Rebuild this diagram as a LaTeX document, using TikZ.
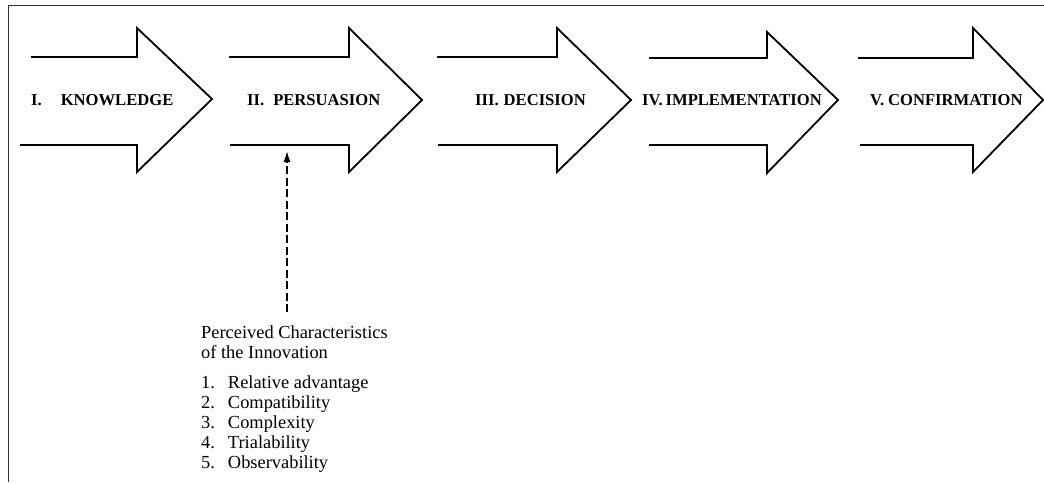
\documentclass[tikz,border=0pt]{standalone}
\usepackage{fontspec}
\setmainfont{Liberation Serif}
\usetikzlibrary{arrows.meta}
\tikzset{
  bigarrow/.style={draw=black, line width=1.8pt, line join=miter},
  stage/.style={anchor=west, inner sep=0pt, font=\fontsize{16.6}{18}\selectfont\bfseries},
  frameline/.style={draw=black!80, line width=1.2pt},
  dasharrow/.style={draw=black, line width=1.4pt, dash pattern=on 8pt off 3.5pt,
    -{Latex[length=11pt,width=7pt]}},
}
\begin{document}
\begin{tikzpicture}[x=1pt,y=-1pt]
\useasboundingbox (0,0) rectangle (1044,482);
% frame
\draw[frameline] (8.5,482) -- (8.5,5.5) -- (1044,5.5);
% arrows
\draw[bigarrow] (31,57) -- (137,57) -- (137,28) -- (212,99) -- (137,172) -- (137,145) -- (20,145);
\draw[bigarrow] (229,57) -- (349,57) -- (349,28) -- (422,100) -- (349,172) -- (349,145) -- (230,145);
\draw[bigarrow] (437,57) -- (557,57) -- (557,28) -- (631,100) -- (557,172) -- (557,145) -- (438,145);
\draw[bigarrow] (649,58) -- (767,58) -- (767,32) -- (838,100) -- (767,173) -- (767,145) -- (649,145);
\draw[bigarrow] (858,58) -- (973,58) -- (973,28) -- (1043,100) -- (973,172) -- (973,145) -- (860,145);
% labels
\node[stage] (s1) at (31,100) {I.\hspace{19pt}KNOWLEDGE};
\node[stage] (s2) at (247,100) {II.\hspace{9pt}PERSUASION};
\node[stage] (s3) at (475,100) {III.\hspace{5pt}DECISION};
\node[stage] (s4) at (642,100) {IV.\hspace{3pt}IMPLEMENTATION};
\node[stage] (s5) at (870,100) {V.\hspace{4pt}CONFIRMATION};
% characteristics
\coordinate (p2b) at (287,151);
\node[anchor=north west, inner sep=0pt, font=\fontsize{18.4}{20}\selectfont] (chars) at (201,324)
{\begin{tabular}{@{}l@{\hspace{13pt}}l@{}}
\multicolumn{2}{@{}l@{}}{Perceived Characteristics}\\
\multicolumn{2}{@{}l@{}}{of the Innovation}\\[10pt]
1.&Relative advantage\\
2.&Compatibility\\
3.&Complexity\\
4.&Trialability\\
5.&Observability
\end{tabular}};
\draw[dasharrow, shorten <=12pt] (chars.north -| p2b) -- (p2b);
\end{tikzpicture}
\end{document}
